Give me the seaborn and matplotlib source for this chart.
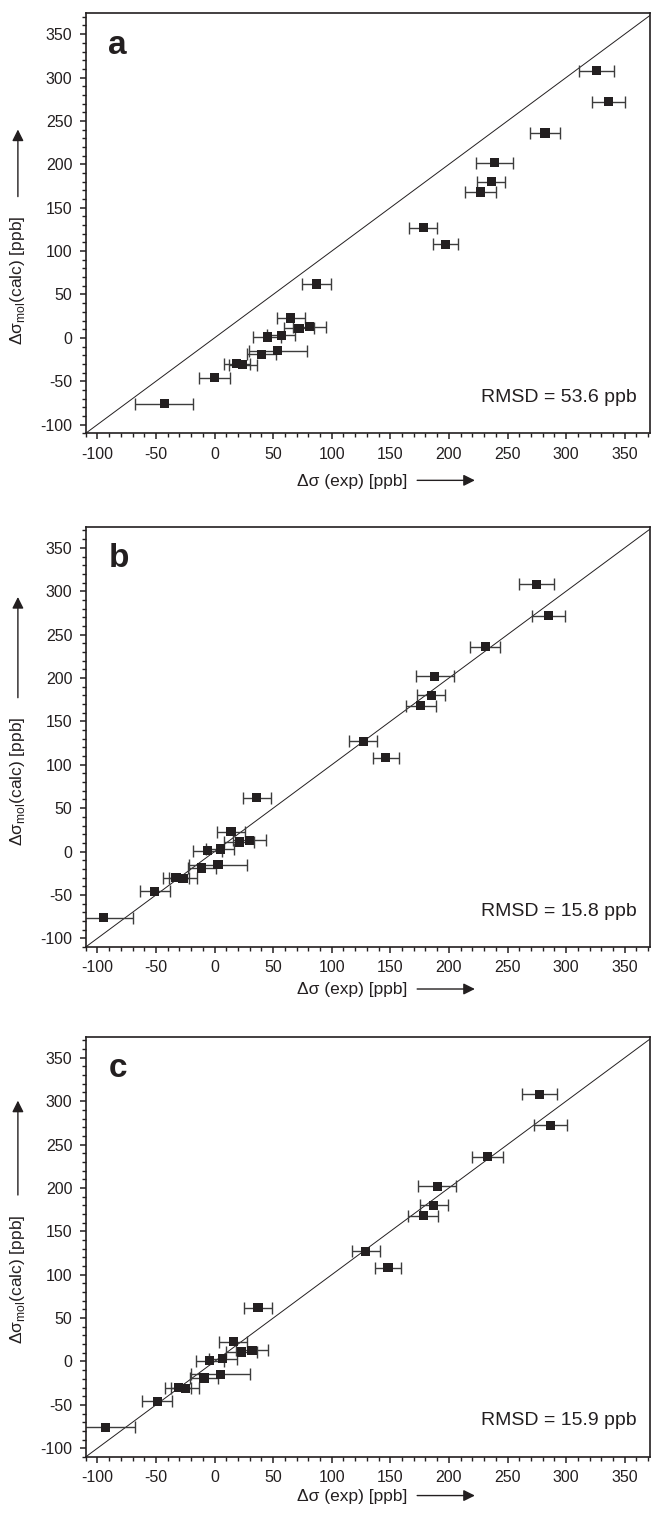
import matplotlib
matplotlib.use("Agg")
import matplotlib.pyplot as plt
from matplotlib.ticker import MultipleLocator
import seaborn as sns
import pandas as pd

# Data (ppb)
y_calc = [308, 272, 236, 202, 180, 168, 127, 108, 62, 23, 13, 11, 3, 1, -15, -19, -30, -31, -46, -76]
x_exp_a = [326, 336, 282, 239, 236, 227, 178, 197, 87, 65, 81, 72, 57, 45, 54, 40, 19, 24, 0, -43]
x_exp_b = [275, 285, 231, 188, 185, 176, 127, 146, 36, 14, 30, 21, 5, -6, 3, -11, -33, -27, -51, -95]
x_exp_c = [277, 287, 233, 190, 187, 178, 129, 148, 37, 16, 32, 23, 7, -4, 5, -9, -31, -25, -49, -93]
x_err = [15, 14, 13, 16, 12, 13, 12, 11, 12, 12, 14, 13, 12, 12, 25, 12, 11, 12, 13, 25]

panel_letters = ["a", "b", "c"]
rmsd_values = [53.6, 15.8, 15.9]
tick_values = [-100, -50, 0, 50, 100, 150, 200, 250, 300, 350]

INK = "#231f20"

sns.set_theme(style="ticks")
plt.rcParams["font.family"] = ["Liberation Sans", "DejaVu Sans"]
plt.rcParams["mathtext.fontset"] = "custom"
plt.rcParams["mathtext.rm"] = "Liberation Sans"
plt.rcParams["axes.unicode_minus"] = False

fig = plt.figure(figsize=(6.51, 15.14), dpi=100)

# axes boxes in figure fraction
bottoms = [0.7138, 0.3745, 0.0377]
ylab_start = [0.21, 0.24, 0.27]   # bottom of the rotated y label
ytip = [0.73, 0.84, 0.855]        # tip of the y arrow
xlab_y = [0.112, 0.10, 0.092]
YLAB_LEN = 0.335

for i, x_exp in enumerate([x_exp_a, x_exp_b, x_exp_c]):
    ax = fig.add_axes([0.1316, bottoms[i], 0.8676, 0.2774])
    df = pd.DataFrame({"exp": x_exp, "calc": y_calc, "err": x_err})

    ax.axline((0, 0), slope=1, color=INK, lw=0.7, zorder=1)
    ax.errorbar(df["exp"], df["calc"], xerr=df["err"], fmt="none",
                ecolor="#3c3c3c", elinewidth=1.0, capsize=4.2, capthick=1.0, zorder=2)
    sns.scatterplot(data=df, x="exp", y="calc", marker="s", s=44, color=INK,
                    edgecolor="none", ax=ax, zorder=3)

    ax.set_xlim(-110, 372)
    ax.set_ylim(-110, 374)
    ax.set_xticks(tick_values)
    ax.set_yticks(tick_values)
    ax.xaxis.set_minor_locator(MultipleLocator(10))
    ax.yaxis.set_minor_locator(MultipleLocator(10))
    ax.tick_params(which="major", direction="out", length=4.5, width=1.1,
                   labelsize=11.5, pad=5, colors=INK, top=False, right=False)
    ax.tick_params(which="minor", direction="out", length=2.6, width=1.0,
                   colors=INK, top=False, right=False)
    for sp in ax.spines.values():
        sp.set_linewidth(1.2)
        sp.set_color(INK)
    ax.set_xlabel("")
    ax.set_ylabel("")

    # panel letter and RMSD
    ax.text(0.04, 0.904, panel_letters[i], transform=ax.transAxes,
            fontsize=24, fontweight="bold", color=INK, ha="left", va="baseline")
    ax.text(0.976, 0.075, f"RMSD = {rmsd_values[i]:.1f} ppb", transform=ax.transAxes,
            fontsize=14, color=INK, ha="right", va="baseline")

    # x label with arrow
    ax.text(0.375, -xlab_y[i] - 0.013, "Δσ (exp) [ppb]", transform=ax.transAxes,
            fontsize=12.5, color=INK, ha="left", va="baseline")
    ax.annotate("", xy=(0.694, -xlab_y[i]), xytext=(0.582, -xlab_y[i]),
                xycoords="axes fraction", annotation_clip=False,
                arrowprops=dict(arrowstyle="-|>", lw=1.0, color=INK, mutation_scale=17))

    # y label with arrow
    ax.text(-0.12, ylab_start[i], "Δσ$_{\\mathrm{mol}}$(calc) [ppb]", transform=ax.transAxes,
            fontsize=12.5, color=INK, rotation=90, ha="center", va="bottom")
    ax.annotate("", xy=(-0.12, ytip[i]), xytext=(-0.12, ylab_start[i] + YLAB_LEN + 0.012),
                xycoords="axes fraction", annotation_clip=False,
                arrowprops=dict(arrowstyle="-|>", lw=1.0, color=INK, mutation_scale=17))

fig.savefig("out.png", dpi=100)
